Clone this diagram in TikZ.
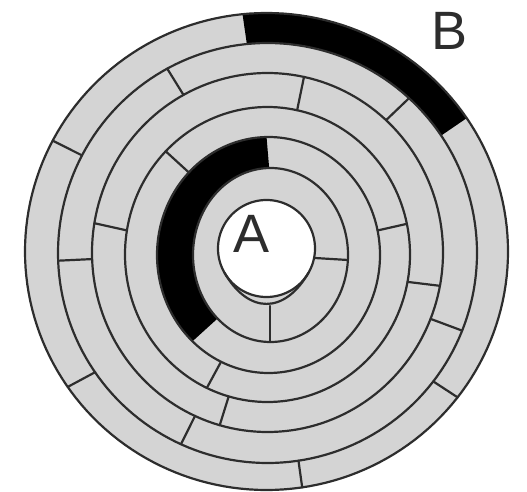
\documentclass[tikz,border=0pt]{standalone}
\usepackage{fontspec}
\setmainfont{Liberation Sans}
\definecolor{ringgray}{RGB}{212,212,212}
\definecolor{wallc}{RGB}{45,45,45}
\definecolor{labelc}{RGB}{45,45,45}
\begin{document}
\begin{tikzpicture}[x=1pt,y=-1pt,
  wall/.style={draw=wallc, line width=2.2pt, line cap=round},
  lbl/.style={font=\fontsize{54}{54}\selectfont, text=labelc, inner sep=0pt, anchor=base}]
\def\Ecx{{266.5,270.5,268.5,267.5,267.5,267.5,266.5}}
\def\Ecy{{248.5,255,255,254.5,252.5,253,251.5}}
\def\Erx{{48.5,77.5,111.5,142.5,175.5,209.5,241.5}}
\def\Ery{{48.5,87,118,147.5,179.5,210,238.5}}
\useasboundingbox (0,0) rectangle (527,492);
\fill[white] (0,0) rectangle (527,492);
% grey disc
\fill[ringgray] (266.5,251.5) ellipse [x radius=241.5, y radius=238.5];
% black band, ring 2
\fill[black] plot[domain=133:269,samples=60,variable=\t]
   ({\Ecx[2]+\Erx[2]*cos(\t)},{\Ecy[2]+\Ery[2]*sin(\t)})
 -- plot[domain=0:1,samples=60,variable=\s]
   ({\Ecx[1]+\Erx[1]*cos(269-136*\s)},{\Ecy[1]+\Ery[1]*sin(269-136*\s)}) -- cycle;
% black band, ring 6 (B)
\fill[black] plot[domain=264.3:326,samples=60,variable=\t]
   ({\Ecx[6]+\Erx[6]*cos(\t)},{\Ecy[6]+\Ery[6]*sin(\t)})
 -- plot[domain=0:1,samples=60,variable=\s]
   ({\Ecx[5]+\Erx[5]*cos(326-61.7*\s)},{\Ecy[5]+\Ery[5]*sin(326-61.7*\s)}) -- cycle;
% white centre
\fill[white] (266.5,248.5) ellipse [x radius=48.5, y radius=48.5];
% ring walls
\foreach \i in {0,...,6}{
  \draw[wall] plot[domain=0:360,samples=181,variable=\t]
   ({\Ecx[\i]+\Erx[\i]*cos(\t)},{\Ecy[\i]+\Ery[\i]*sin(\t)}) -- cycle;
}
% extra inner arc below the centre
\draw[wall] (224.5,272.75) .. controls (248.5,314.3) and (284.5,314.3) .. (308.5,272.75);
% ring 1 walls
\draw[wall] (315,258) -- (348,260);
\draw[wall] (270,306) -- (270,342);
% radial walls
\foreach \t/\i/\o in {224.4/2/3, -12/2/3, 115.2/2/3,
  189.4/3/4, 282/3/4, 10.7/3/4, 105.8/3/4,
  241.4/4/5, 312.5/4/5, 177.9/4/5, 21.7/4/5, 114.4/4/5,
  207.7/5/6, 145.4/5/6, 81.5/5/6, 37.7/5/6}{
  \draw[wall] ({\Ecx[\i]+\Erx[\i]*cos(\t)},{\Ecy[\i]+\Ery[\i]*sin(\t)})
    -- ({\Ecx[\o]+\Erx[\o]*cos(\t)},{\Ecy[\o]+\Ery[\o]*sin(\t)});
}
% labels
\node[lbl] (A) at (252,252) {A};
\node[lbl] (B) at (450,50) {B};
\end{tikzpicture}
\end{document}
